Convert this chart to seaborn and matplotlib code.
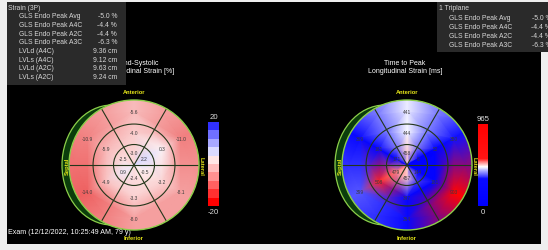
import matplotlib
matplotlib.use("Agg")
import matplotlib.pyplot as plt
import matplotlib.cm as cm
import numpy as np
import seaborn as sns
from matplotlib import font_manager
from matplotlib.colors import ListedColormap, LinearSegmentedColormap, Normalize
from matplotlib.patches import Rectangle, Circle, Ellipse

# segment order in every ring: anterior, anterolateral, inferolateral,
# inferior, inferoseptal, anteroseptal
strain_basal = [-5.6, -11.0, -8.1, -8.0, -14.0, -10.9]
strain_mid = [-4.0, 0.3, -3.2, -3.3, -4.9, -5.9]
strain_apical = [-3.0, 2.2, -0.5, -2.4, 0.9, -2.5]

ttp_basal = [441, 380, 903, 364, 399, 369]
ttp_mid = [444, 52, 181, 347, 508, 181]
ttp_apical = [458, 6, 144, 457, 479, 171]

strain_range = [-20, 20]
ttp_range = [0, 965]

left_box_title = "Strain (3P)"
left_labels = ["GLS Endo Peak Avg", "GLS Endo Peak A4C", "GLS Endo Peak A2C",
               "GLS Endo Peak A3C", "LVLd (A4C)", "LVLs (A4C)", "LVLd (A2C)", "LVLs (A2C)"]
left_values = ["-5.0 %", "-4.4 %", "-4.4 %", "-6.3 %", "9.36 cm", "9.12 cm", "9.63 cm", "9.24 cm"]
right_box_title = "1 Triplane"
right_labels = ["GLS Endo Peak Avg", "GLS Endo Peak A4C", "GLS Endo Peak A2C", "GLS Endo Peak A3C"]
right_values = ["-5.0 %", "-4.4 %", "-4.4 %", "-6.3 %"]
exam_text = "Exam (12/12/2022, 10:25:49 AM, 79 y)"

sns.set_style("dark")
names = {f.name for f in font_manager.fontManager.ttflist}
if "Liberation Sans Narrow" in names:
    FONT, K = "Liberation Sans Narrow", 1.0
else:
    FONT, K = "Liberation Sans", 0.85
plt.rcParams["font.family"] = [FONT, "DejaVu Sans"]

# colormaps: stepped one for the bar, softer continuous one for the map
strain_colors = ['#ff0000', '#ff3030', '#ff6060', '#ff9090', '#ffbcbc',
                 '#ffe6e6', '#dadaff', '#a8a8ff', '#7070ff', '#3030ff']
strain_cbar_cmap = ListedColormap(strain_colors)
strain_cmap = LinearSegmentedColormap.from_list(
    "strain", [(0, '#ff0000'), (0.15, '#ee6262'), (0.3, '#f5a0a0'), (0.4, '#facccc'),
               (0.5, '#fff4f4'), (0.55, '#dcdcff'), (0.7, '#9090ff'), (1, '#2020ff')])
ttp_cmap = LinearSegmentedColormap.from_list(
    "ttp", [(0, '#0000ff'), (0.39, '#0808ff'), (0.46, '#ffffff'), (0.53, '#ff1414'), (1, '#ff0000')])
ttp_cbar_cmap = LinearSegmentedColormap.from_list(
    "ttp_bar", [(0, '#0000ff'), (0.33, '#0a0aff'), (0.48, '#ffffff'), (0.58, '#ff1414'), (1, '#ff0000')])

fig = plt.figure(figsize=(5.48, 2.51), dpi=100)
fig.patch.set_facecolor('#eeeeee')
ax = fig.add_axes([0, 0, 1, 1])
ax.set_xlim(0, 548)
ax.set_ylim(251, 0)
ax.axis('off')

ax.add_patch(Rectangle((7, 3), 534, 242, fc='black', ec='none', zorder=0))

ax.text(8, 233, exam_text, color='white', fontsize=6.1 * K, va='center', ha='left', zorder=1)

LINE = '#23361a'
RIM = '#8ccf4a'
YEL = '#e6e619'


def bullseye(cx, cy, basal, mid, apical, cmap, norm, fmt):
    R = 65
    theta = np.deg2rad(90 - 60 * np.arange(7))
    r_nodes = np.array([0, 0.19, 0.5, 0.83, 1.25])
    # centre and rim take the value of the nearest ring
    rows = [apical, apical, mid, basal, basal]
    C = np.array([list(v) + [v[0]] for v in rows], dtype=float)
    X = cx + R * np.outer(r_nodes, np.cos(theta))
    Y = cy - R * np.outer(r_nodes, np.sin(theta))

    ax.add_patch(Ellipse((cx - 22, cy), 100, 120, fc='#0b3d0b', ec=RIM, lw=0.9, zorder=2))
    mesh = ax.pcolormesh(X, Y, C, shading='gouraud', cmap=cmap, norm=norm, zorder=3)
    mesh.set_clip_path(Circle((cx, cy), R, transform=ax.transData))

    for f in [0.315, 0.63]:
        ax.add_patch(Circle((cx, cy), R * f, fill=False, ec=LINE, lw=0.8, zorder=4))
    ax.add_patch(Circle((cx, cy), R, fill=False, ec=RIM, lw=1.0, zorder=5))
    for a in np.deg2rad([0, 60, 120]):
        ax.plot([cx - R * np.cos(a), cx + R * np.cos(a)],
                [cy + R * np.sin(a), cy - R * np.sin(a)], color=LINE, lw=0.8, zorder=4)

    ang = np.deg2rad(90 - 60 * np.arange(6))
    for vals, rr in [(apical, 0.19), (mid, 0.5), (basal, 0.83)]:
        for v, a in zip(vals, ang):
            ax.text(cx + R * rr * np.cos(a), cy - R * rr * np.sin(a), fmt(v),
                    fontsize=4.1 * K, color='#3a3a3a', ha='center', va='center', zorder=6)

    kw = dict(color=YEL, fontsize=4.9 * K, fontweight='bold', ha='center', va='center', zorder=6)
    ax.text(cx, cy - 73, "Anterior", **kw)
    ax.text(cx, cy + 73, "Inferior", **kw)
    ax.text(cx - 67, cy, "Septal", rotation=90, **kw)
    ax.text(cx + 67, cy, "Lateral", rotation=-90, **kw)


strain_norm = Normalize(*strain_range)
ttp_norm = Normalize(*ttp_range)
bullseye(134, 166, strain_basal, strain_mid, strain_apical, strain_cmap, strain_norm,
         lambda v: f"{v:.1f}")
bullseye(407, 166, ttp_basal, ttp_mid, ttp_apical, ttp_cmap, ttp_norm,
         lambda v: f"{v:d}")

ax.text(139, 67.5, "End-Systolic\nLongitudinal Strain [%]", color='white', fontsize=5.9 * K,
        ha='center', va='center', linespacing=1.15, zorder=1)
ax.text(405, 67.5, "Time to Peak\nLongitudinal Strain [ms]", color='white', fontsize=5.9 * K,
        ha='center', va='center', linespacing=1.15, zorder=1)


# colour bars
def colorbar(x0, x1, y0, y1, cmap, norm, top, bottom):
    cax = fig.add_axes([x0 / 548, 1 - y1 / 251, (x1 - x0) / 548, (y1 - y0) / 251])
    cb = fig.colorbar(cm.ScalarMappable(norm=norm, cmap=cmap), cax=cax)
    cb.set_ticks([])
    cb.outline.set_visible(False)
    xm = (x0 + x1) / 2
    ax.text(xm, y0 - 5, top, color='#dddddd', fontsize=6.6 * K, ha='center', va='center')
    ax.text(xm, y1 + 6, bottom, color='#dddddd', fontsize=6.6 * K, ha='center', va='center')


colorbar(208, 219, 123, 207, strain_cbar_cmap, strain_norm, "20", "-20")
colorbar(478, 488, 125, 207, ttp_cbar_cmap, ttp_norm, "965", "0")

# info boxes
BOX = '#2a2a2a'
TXT = '#d8d8d8'
FS = 5.7 * K
ax.add_patch(Rectangle((7, 3), 119, 83, fc=BOX, ec='none', zorder=7))
ax.text(8, 8, left_box_title, color=TXT, fontsize=FS, va='center', zorder=8)
for i, (lab, val) in enumerate(zip(left_labels, left_values)):
    y = 17 + 8.6 * i
    ax.text(19, y, lab, color=TXT, fontsize=FS, va='center', zorder=8)
    ax.text(117, y, val, color=TXT, fontsize=FS, va='center', ha='right', zorder=8)

ax.add_patch(Rectangle((437, 3), 115, 50, fc=BOX, ec='none', zorder=7))
ax.text(439, 9, right_box_title, color=TXT, fontsize=FS, va='center', zorder=8)
for i, (lab, val) in enumerate(zip(right_labels, right_values)):
    y = 18.3 + 9.1 * i
    ax.text(449, y, lab, color=TXT, fontsize=FS, va='center', zorder=8)
    ax.text(551, y, val, color=TXT, fontsize=FS, va='center', ha='right', zorder=8)

fig.savefig("out.png", dpi=100, facecolor=fig.get_facecolor())
